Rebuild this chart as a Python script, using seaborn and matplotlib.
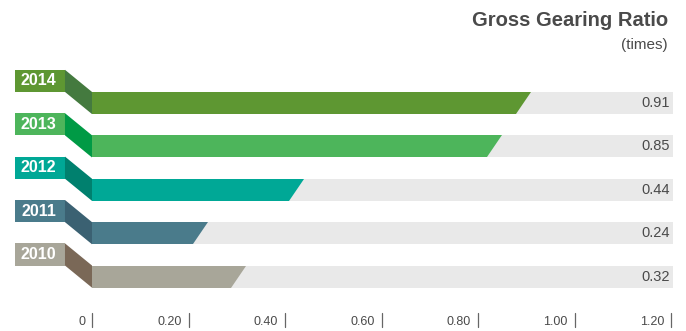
import matplotlib
matplotlib.use("Agg")
import matplotlib.pyplot as plt
import seaborn as sns
import pandas as pd
from matplotlib.patches import Polygon, Rectangle

# Data
years = ["2014", "2013", "2012", "2011", "2010"]
ratios = [0.91, 0.85, 0.44, 0.24, 0.32]
value_labels = ["0.91", "0.85", "0.44", "0.24", "0.32"]
tick_values = [0, 0.2, 0.4, 0.6, 0.8, 1.0, 1.2]
tick_labels = ["0", "0.20", "0.40", "0.60", "0.80", "1.00", "1.20"]
title = "Gross Gearing Ratio"
unit = "(times)"

# Styling
bar_colors = ["#5e9732", "#4db55b", "#00a896", "#4a7b8b", "#a8a699"]
fold_colors = ["#447a3f", "#009a45", "#00806e", "#3b6172", "#7a6857"]
track_color = "#e9e9e9"
text_color = "#4a4a4a"
track_end = 1.205
BAR_H = 0.51
SLANT = 0.031
BOX_LEFT = -0.16
BOX_RIGHT = -0.056

sns.set_theme(style="white")
plt.rcParams["font.family"] = ["Liberation Sans", "DejaVu Sans"]

fig = plt.figure(figsize=(6.86, 3.31), dpi=100)
ax = fig.add_axes([0, 0, 1, 1])

df = pd.DataFrame({"year": years, "ratio": ratios})
track_df = pd.DataFrame({"year": years, "ratio": [track_end] * len(years)})

# Grey tracks behind each bar
sns.barplot(data=track_df, x="ratio", y="year", order=years, color=track_color,
            saturation=1, width=BAR_H, errorbar=None, linewidth=0, ax=ax)
# Coloured value bars
sns.barplot(data=df, x="ratio", y="year", hue="year", order=years, hue_order=years,
            palette=bar_colors, saturation=1, width=BAR_H, dodge=False,
            errorbar=None, linewidth=0, legend=False, ax=ax)

for i, (yr, v, lab) in enumerate(zip(years, ratios, value_labels)):
    top, bot = i - BAR_H / 2, i + BAR_H / 2
    # slanted bar end
    ax.add_patch(Polygon([(v - SLANT, bot), (v + 0.002, bot), (v + 0.002, top), (v, top)],
                         closed=True, facecolor=track_color, edgecolor="none", zorder=5))
    # year tag and folded ribbon
    ax.add_patch(Rectangle((BOX_LEFT, top - BAR_H), BOX_RIGHT - BOX_LEFT, BAR_H,
                           facecolor=bar_colors[i], edgecolor="none", zorder=5))
    ax.add_patch(Polygon([(BOX_RIGHT, top - BAR_H), (0, top), (0, bot), (BOX_RIGHT, top)],
                         closed=True, facecolor=fold_colors[i], edgecolor="none", zorder=5))
    ax.text((BOX_LEFT + BOX_RIGHT) / 2 - 0.003, top - BAR_H / 2, yr, ha="center", va="center",
            color="white", fontsize=11.5, fontweight="bold", zorder=6)
    ax.text(1.197, i, lab, ha="right", va="center", color=text_color, fontsize=10.5, zorder=6)

# Scale ticks along the bottom
xtr = ax.get_xaxis_transform()
for t, tl in zip(tick_values, tick_labels):
    ax.plot([t, t], [0.012, 0.055], color="#666666", lw=0.9, transform=xtr, clip_on=False)
    ax.annotate(tl, xy=(t, 0.027), xycoords=xtr, xytext=(-5, 0), textcoords="offset points",
                ha="right", va="center", fontsize=9, color=text_color)

fig.text(668 / 686, 1 - 21 / 331, title, ha="right", va="center", fontsize=14.5,
         fontweight="bold", color=text_color)
fig.text(668 / 686, 1 - 45 / 331, unit, ha="right", va="center", fontsize=11,
         color=text_color)

ax.set_xlim(-92 / 482.5, 594 / 482.5)
ax.set_ylim((331 - 103) / 43.4, -103 / 43.4)
ax.set_axis_off()

fig.savefig("out.png", dpi=100)
